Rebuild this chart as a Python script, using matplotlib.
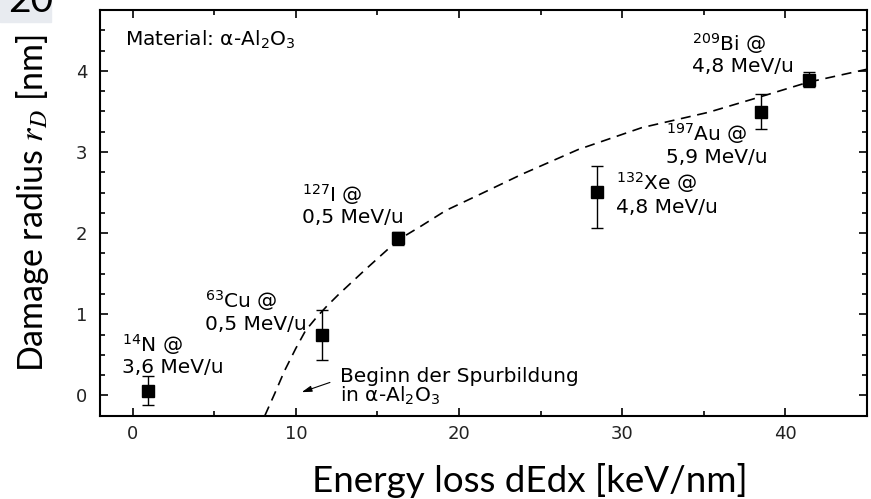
import matplotlib
matplotlib.use("Agg")
import matplotlib.pyplot as plt
from matplotlib.patches import Rectangle
from matplotlib.ticker import MultipleLocator

# measured points (energy loss in keV/nm, damage radius in nm)
dedx = [0.94, 11.6, 16.28, 28.45, 38.49, 41.43]
radius = [0.06, 0.74, 1.94, 2.51, 3.49, 3.89]
err_lo = [0.18, 0.30, 0.09, 0.45, 0.21, 0.09]
err_hi = [0.18, 0.31, 0.08, 0.32, 0.23, 0.09]

# dashed guide curve
curve_x = [8.1, 8.7, 9.3, 10.0, 10.6, 11.3, 11.9, 12.6, 14.2, 15.3, 16.3,
           17.7, 19.2, 21.3, 23.9, 27.3, 31.2, 35.3, 38.3, 41.4, 45.0]
curve_y = [-0.25, 0.02, 0.30, 0.58, 0.80, 0.97, 1.10, 1.24, 1.54, 1.74, 1.92,
           2.09, 2.28, 2.48, 2.73, 3.03, 3.30, 3.49, 3.67, 3.86, 4.02]

ion_labels = [r"$^{14}$N @", r"$^{63}$Cu @", r"$^{127}$I @",
              r"$^{132}$Xe @", r"$^{197}$Au @", r"$^{209}$Bi @"]
energy_labels = ["3,6 MeV/u", "0,5 MeV/u", "0,5 MeV/u",
                 "4,8 MeV/u", "5,9 MeV/u", "4,8 MeV/u"]

W, H = 871, 499
fig = plt.figure(figsize=(W / 100, H / 100), dpi=100)
ax = fig.add_axes([100 / W, 1 - 415.7 / H, 767 / W, 405.7 / H])

txt = dict(family="DejaVu Sans", math_fontfamily="dejavusans", fontsize=14.5)

ax.plot(curve_x, curve_y, color="black", lw=1.2, linestyle=(0, (6, 4)))
ax.errorbar(dedx, radius, yerr=[err_lo, err_hi], fmt="s", color="black",
            ms=9, elinewidth=1, capsize=4.5, capthick=1)

# label positions: left edge, baseline of the two lines
label_pos = [(-0.67, 0.54, 0.28), (4.46, 1.08, 0.81), (10.36, 2.39, 2.13),
             (29.6, 2.54, 2.25), (32.7, 3.14, 2.87), (34.3, 4.25, 3.98)]
for (lx, ly1, ly2), l1, l2 in zip(label_pos, ion_labels, energy_labels):
    ax.text(lx, ly1, l1, ha="left", va="baseline", **txt)
    ax.text(lx, ly2, l2, ha="left", va="baseline", **txt)

ax.text(-0.49, 4.31, "Material: α-Al$_2$O$_3$", ha="left", va="baseline", **txt)
ax.text(12.7, 0.17, "Beginn der Spurbildung", ha="left", va="baseline", **txt)
ax.text(12.7, -0.08, "in α-Al$_2$O$_3$", ha="left", va="baseline", **txt)
ax.annotate("", xy=(10.36, 0.04), xytext=(12.09, 0.16),
            arrowprops=dict(arrowstyle="-|>,head_length=0.6,head_width=0.18",
                            color="black", lw=0.8, shrinkA=0, shrinkB=0))

ax.set_xlim(-2, 45)
ax.set_ylim(-0.25, 4.75)
ax.xaxis.set_major_locator(MultipleLocator(10))
ax.xaxis.set_minor_locator(MultipleLocator(5))
ax.yaxis.set_major_locator(MultipleLocator(1))
ax.yaxis.set_minor_locator(MultipleLocator(0.25))
ax.tick_params(which="both", direction="in", top=True, right=True, width=1.2)
ax.tick_params(which="major", length=6, labelsize=13, pad=7)
ax.tick_params(which="minor", length=3.5)
ax.tick_params(axis="y", which="major", pad=9)
for lab in ax.get_xticklabels() + ax.get_yticklabels():
    lab.set_family("DejaVu Sans")
    lab.set_color("#222222")
for s in ax.spines.values():
    s.set_linewidth(1.5)

fig.text(43 / W, 1 - 372 / H, "Damage radius $r_D$ [nm]", rotation=90,
         rotation_mode="anchor", ha="left", va="baseline", family="Lato",
         math_fontfamily="stix", fontsize=24.5)
fig.text(311.7 / W, 1 - 492 / H, "Energy loss dEdx [keV/nm]", ha="left",
         va="baseline", family="Lato", fontsize=26.5)

# slide number box in the corner
fig.patches.append(Rectangle((0, 1 - 22 / H), 51 / W, 22 / H,
                             transform=fig.transFigure, color="#e8ebf0", zorder=0))
fig.text(8 / W, 1 - 12 / H, "20", ha="left", va="baseline", family="Lato",
         fontsize=28)

fig.savefig("out.png", dpi=100)
